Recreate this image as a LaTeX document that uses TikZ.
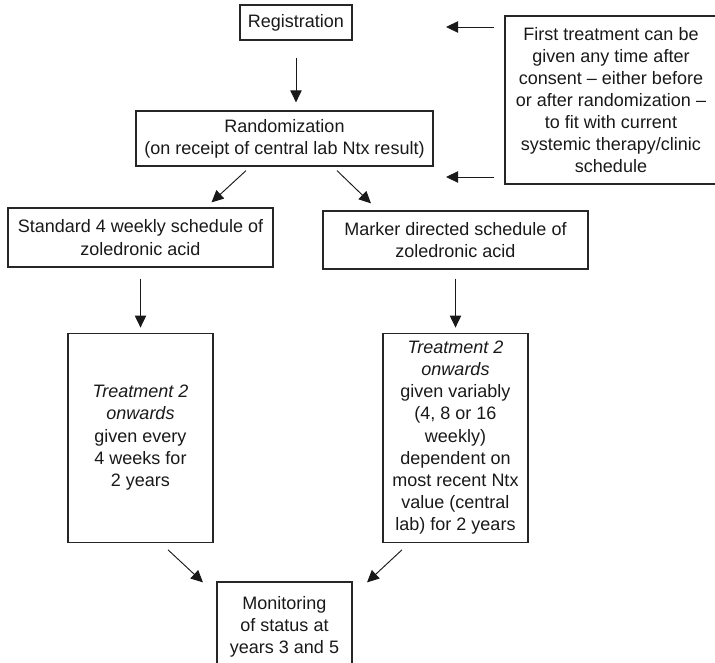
\documentclass[tikz,border=0pt]{standalone}
\usepackage{fontspec}
\setmainfont{Liberation Sans}
\usetikzlibrary{arrows.meta,positioning}

\begin{document}
\begin{tikzpicture}[
  x=0.75pt,y=-0.75pt,
  every node/.style={font=\fontsize{13.5}{16.6}\selectfont,text=black!90},
  box/.style={draw=black!85,line width=0.9pt,align=center,inner sep=0pt},
  tall/.style={box,minimum width=108.75pt,minimum height=156.75pt},
  arr/.style={-{Triangle[length=9pt,width=8.5pt]},line width=0.7pt,draw=black!90}
]
\useasboundingbox (0,0) rectangle (715,662);
\node[box,minimum width=84pt,minimum height=26.25pt] (reg) at (296,22.5) {Registration};
\node[box,minimum width=222.75pt,minimum height=41.25pt] (rand) at (284.5,138.5) {Randomization\\(on receipt of central lab Ntx result)};
\node[box,minimum width=159pt,minimum height=126pt] (note) at (611,100) {First treatment can be\\given any time after\\consent – either before\\or after randomization –\\to fit with current\\systemic therapy/clinic\\schedule};
\node[box,minimum width=198.75pt,minimum height=44.25pt] (std) at (140.5,237.5) {Standard 4 weekly schedule of\\zoledronic acid};
\node[box,minimum width=198.75pt,minimum height=43.5pt] (mark) at (455.5,240) {Marker directed schedule of\\zoledronic acid};
\node[tall,below=48.75pt of std] (every) {\textit{Treatment 2}\\\textit{onwards}\\given every\\4 weeks for\\2 years};
\node[tall,below=47.25pt of mark] (var) {\textit{Treatment 2}\\\textit{onwards}\\given variably\\(4, 8 or 16\\weekly)\\dependent on\\most recent Ntx\\value (central\\lab) for 2 years};
\node[box,minimum width=101.25pt,minimum height=66.75pt] (mon) at (284.5,626.5) {Monitoring\\of status at\\years 3 and 5};
\coordinate (regtip) at (446,27);
\coordinate (randtip) at (446,177);
\draw[arr,shorten <=12.75pt,shorten >=6pt] (reg.south) -- (reg.south |- rand.north);
\draw[arr,shorten <=7.5pt] (note.west |- regtip) -- (regtip);
\draw[arr,shorten <=7.5pt] (note.west |- randtip) -- (randtip);
\draw[arr] ([shift={(-38.5,4)}]rand.south) -- ([shift={(71,-5)}]std.north);
\draw[arr] ([shift={(52.5,4)}]rand.south) -- ([shift={(-84.5,-7)}]mark.north);
\draw[arr,shorten <=8.25pt,shorten >=3.75pt] (std) -- (every);
\draw[arr,shorten <=6.75pt,shorten >=3.75pt] (mark) -- (var);
\draw[arr] ([shift={(27.5,7)}]every.south) -- ([shift={(-81.5,1)}]mon.north);
\draw[arr] ([shift={(-53.5,7)}]var.south) -- ([shift={(82.5,1)}]mon.north);
\end{tikzpicture}
\end{document}
